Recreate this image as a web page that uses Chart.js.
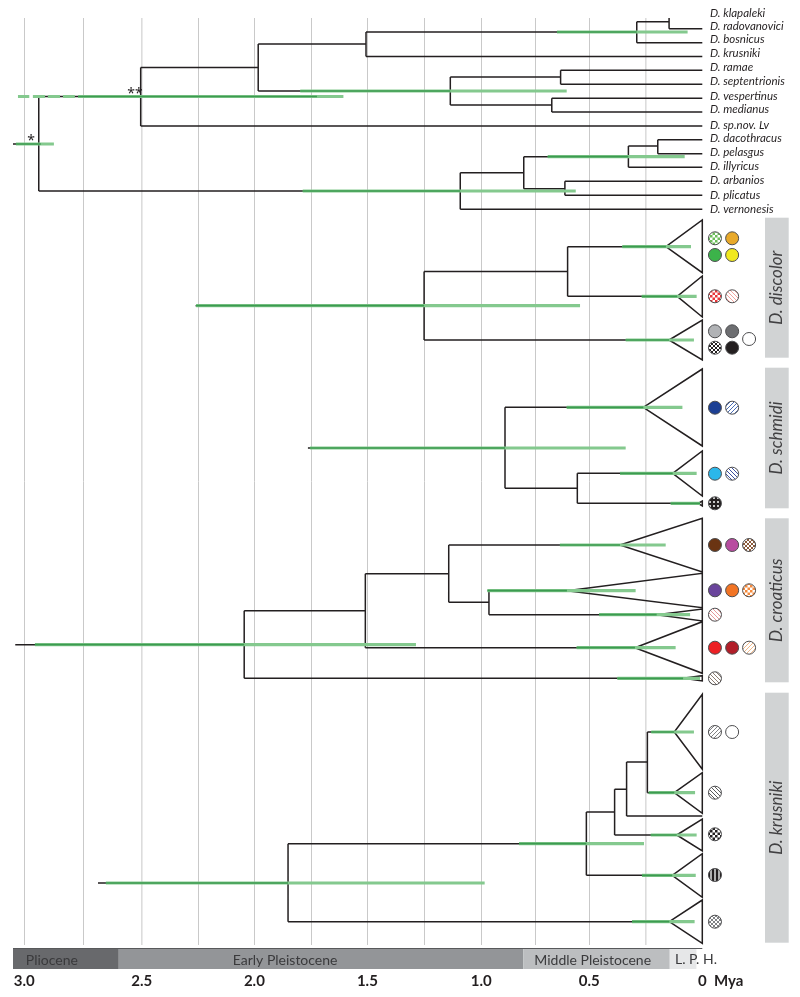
<!DOCTYPE html>
<html>
<head>
<meta charset="utf-8">
<script src="https://cdn.jsdelivr.net/npm/chart.js@4"></script>
<style>
  html, body { margin: 0; padding: 0; background: #fff; }
  canvas { display: block; }
</style>
</head>
<body>
<canvas id="tree" width="800" height="997"></canvas>
<script>
// time axis, ages in Mya
const gridAges = [3.0, 2.739, 2.48, 2.23, 1.982, 1.731, 1.482, 1.23, 0.978, 0.739, 0.5, 0.249, 0];
const tickLabels = ["3.0", "", "2.5", "", "2.0", "", "1.5", "", "1.0", "", "0.5", "", "0"];

const eraNames = ["Pliocene", "Early Pleistocene", "Middle Pleistocene", "L. P.", ""];
const eraOld = [3.05, 2.582, 0.792, 0.144, 0.025];
const eraYoung = [2.582, 0.792, 0.144, 0.025, 0];
const eraLabelAge = [2.878, 1.846, 0.485, null, null];
const eraColors = ["#68696c", "#939598", "#bcbec0", "#e6e7e8", "#ffffff"];

// horizontal branches: row, older end, younger end
const stemY = [14.7, 28.7, 42.7, 21.7, 32, 56.6, 44, 70.3, 84.3, 98.3, 112, 77, 105, 91, 67.5, 125.9, 96.5,
  139.7, 153.7, 146, 167.3, 156.7, 181.3, 195.3, 188.7, 172.7, 209.3, 191, 144,
  246.7, 296.3, 271.5, 340, 305.7,
  407.3, 473.3, 503.3, 488.3, 448,
  545, 590.7, 614.7, 602.3, 573.7, 647.7, 610.7, 678.3, 644.7,
  732, 792.7, 762, 816, 789.3, 835, 812, 875.3, 843.7, 921.7, 883];
const stemOld = [0.147, 0.147, 0.29, 0.29, 1.488, 1.488, 1.965, 0.627, 0.627, 0.666, 0.666, 1.115, 1.115, 1.965, 2.485, 2.485, 2.936,
  0.197, 0.197, 0.327, 0.327, 0.79, 0.608, 0.608, 0.79, 1.071, 1.071, 2.936, 3.05,
  0.596, 0.596, 1.231, 1.231, 2.242,
  0.873, 0.553, 0.553, 0.873, 1.745,
  1.122, 0.944, 0.944, 1.122, 1.491, 1.491, 2.027, 2.027, 3.04,
  0.243, 0.243, 0.335, 0.335, 0.388, 0.388, 0.513, 0.513, 1.833, 1.833, 2.674];
const stemYoung = [0, 0, 0, 0.147, 0.29, 0, 1.488, 0, 0, 0, 0, 0.627, 0.666, 1.115, 1.965, 0, 2.485,
  0, 0, 0.197, 0, 0.327, 0, 0, 0.608, 0.79, 0, 1.071, 2.936,
  0.161, 0.111, 0.596, 0.147, 1.231,
  0.261, 0.131, 0.019, 0.553, 0.873,
  0.364, 0.599, 0.202, 0.944, 1.122, 0.298, 1.491, 0.085, 2.027,
  0.124, 0.124, 0.243, 0, 0.335, 0.113, 0.388, 0.133, 0.513, 0.146, 1.833];

// vertical connectors
const splitAge = [0.147, 0.29, 1.488, 1.965, 0.627, 0.666, 1.115, 2.485, 0.197, 0.327, 0.608, 0.79, 1.071, 2.936,
  0.596, 1.231, 0.873, 0.553, 1.122, 0.944, 1.491, 2.027, 0.243, 0.335, 0.388, 0.513, 1.833];
const splitTop = [14.7, 21.7, 32, 44, 70.3, 98.3, 77, 67.5, 139.7, 146, 181.3, 156.7, 172.7, 96.5,
  246.7, 271.5, 407.3, 473.3, 545, 590.7, 573.7, 610.7, 732, 762, 789.3, 812, 843.7];
const splitBottom = [28.7, 42.7, 56.6, 91, 84.3, 112, 105, 125.9, 153.7, 167.3, 195.3, 188.7, 209.3, 191,
  296.3, 340, 488.3, 503.3, 602.3, 614.7, 647.7, 678.3, 792.7, 816, 835, 875.3, 921.7];

// collapsed clades, drawn as triangles closed at age 0
const cladeAge = [0.161, 0.111, 0.147, 0.261, 0.131, 0.019, 0.364, 0.599, 0.202, 0.298, 0.085, 0.124, 0.124, 0.113, 0.133, 0.146];
const cladeMid = [246.7, 296.3, 340, 407.3, 473.3, 503.3, 545, 590.7, 614.7, 647.7, 678.3, 732, 792.7, 835, 875.3, 921.7];
const cladeTop = [220, 276, 320, 369, 451, 501, 518.3, 573.3, 609, 621.7, 675.7, 694.3, 772.7, 819, 853.7, 900];
const cladeBottom = [272.7, 317, 360, 446, 496, 506, 572, 607.7, 621, 673.3, 681, 769.3, 813.3, 851, 897.3, 943.3];

// credibility bars: dark part runs old -> darkEnd, light part old -> young
const hpdY = [32, 91, 96.5, 96.5, 96.5, 96.5, 96.5, 144, 156.7, 191,
  246.7, 296.3, 340, 305.7, 407.3, 448, 473.3, 503.3,
  545, 590.7, 614.7, 647.7, 678.3, 644.7,
  732, 792.7, 835, 875.3, 921.7, 843.7, 883];
const hpdOld = [0.643, 1.779, 3.028, 2.962, 2.896, 2.829, 2.762, 3.037, 0.684, 1.768,
  0.354, 0.268, 0.339, 2.24, 0.6, 1.736, 0.364, 0.14,
  0.63, 0.951, 0.457, 0.556, 0.376, 2.953,
  0.226, 0.237, 0.228, 0.267, 0.311, 0.811, 2.639];
const hpdDarkEnd = [0.29, 1.115, null, null, null, null, 1.705, 2.927, 0.327, 1.071,
  0.161, 0.111, 0.147, 1.231, 0.261, 0.873, 0.131, 0.01,
  0.364, 0.599, 0.202, 0.298, 0.085, 2.027,
  0.124, 0.124, 0.113, 0.133, 0.146, 0.513, 1.833];
const hpdYoung = [0.065, 0.6, 2.978, 2.908, 2.842, 2.776, 1.588, 2.869, 0.078, 0.56,
  0.05, 0.025, 0.037, 0.541, 0.088, 0.339, 0.025, 0.01,
  0.162, 0.295, 0.054, 0.118, 0.01, 1.267,
  0.037, 0.032, 0.025, 0.029, 0.034, 0.258, 0.963];

// haplotype symbols, kept to the right of age 0
const symbolY = [238.3, 238.3, 255, 255, 296.3, 296.3, 331.3, 331.3, 347.7, 347.7, 339,
  407.7, 407.7, 473.7, 473.7, 503.3,
  545, 545, 545, 590.3, 590.3, 590.3, 614.7, 647.7, 647.7, 647.7, 678.3,
  732, 732, 792.7, 834.3, 875, 921.7];
const symbolCol = [1, 2, 1, 2, 1, 2, 1, 2, 1, 2, 3,
  1, 2, 1, 2, 1,
  1, 2, 3, 1, 2, 3, 1, 1, 2, 3, 1,
  1, 2, 1, 1, 1, 1];
const symbolInk = ["#6cbd5a", "#e8a92a", "#3cb34a", "#f0e81e", "#e8363a", "#f4a6a0", "#b1b3b6", "#6d6e71", "#231f20", "#231f20", "#ffffff",
  "#1c3f94", "#4a6db5", "#2bb7ea", "#3d4f9f", "#231f20",
  "#6a3412", "#b84ca0", "#8a5a3a", "#6a449c", "#f27424", "#f58a3c", "#e89a9a", "#ed2024", "#b11e29", "#f0b98a", "#8b7b70",
  "#808285", "#ffffff", "#58595b", "#231f20", "#231f20", "#808285"];
const symbolKind = ["check", "", "", "", "check", "back", "", "", "cross", "", "",
  "", "diag", "", "back", "grid",
  "", "", "cross", "", "", "check", "back", "", "", "diag", "back",
  "diag", "", "back", "check", "vert", "cross"];
const symbolColAges = [0, -0.056, -0.132, -0.207];

const taxa = ["D. klapaleki", "D. radovanovici", "D. bosnicus", "D. krusniki", "D. ramae", "D. septentrionis", "D. vespertinus",
  "D. medianus", "D. sp.nov. Lv", "D. dacothracus", "D. pelasgus", "D. illyricus", "D. arbanios", "D. plicatus", "D. vernonesis"];
const taxonY = [13, 26, 39, 53, 67, 81, 96, 109, 125, 138, 152, 166, 180, 195, 209];

const panelNames = ["D. discolor", "D. schmidi", "D. croaticus", "D. krusniki"];
const panelTop = [217.7, 367.7, 518.3, 692.7];
const panelBottom = [357.7, 508.3, 682.3, 942.7];

const supportMarks = ["**", "*"];
const supportAge = [2.51, 2.97];
const supportY = [94, 141];

// small tiles for the hatched symbols
function makePattern(kind, ink, ctx) {
  const s = kind === "check" ? 5 : 4;
  const tile = document.createElement("canvas");
  tile.width = s;
  tile.height = s;
  const t = tile.getContext("2d");
  t.fillStyle = "#ffffff";
  t.fillRect(0, 0, s, s);
  t.strokeStyle = ink;
  t.fillStyle = ink;
  t.lineWidth = 1;
  const line = (x1, y1, x2, y2) => {
    t.beginPath();
    t.moveTo(x1, y1);
    t.lineTo(x2, y2);
    t.stroke();
  };
  if (kind === "diag" || kind === "cross") {
    line(-1, s + 1, s + 1, -1);
    line(-1, 1, 1, -1);
    line(s - 1, s + 1, s + 1, s - 1);
  }
  if (kind === "back" || kind === "cross") {
    line(-1, -1, s + 1, s + 1);
    line(s - 1, -1, s + 1, 1);
    line(-1, s - 1, 1, s + 1);
  }
  if (kind === "check") {
    t.fillRect(0, 0, 2.5, 2.5);
    t.fillRect(2.5, 2.5, 2.5, 2.5);
  }
  if (kind === "grid") {
    t.fillRect(0, 0, s, s);
    t.fillStyle = "#c8c8c8";
    t.fillRect(1, 1, 2, 2);
  }
  if (kind === "vert") {
    t.fillStyle = "#b0b0b0";
    t.fillRect(0, 0, s, s);
    t.fillStyle = ink;
    t.fillRect(0, 0, 2, s);
  }
  return ctx.createPattern(tile, "repeat");
}

const treeLine = [];
stemY.forEach((y, i) => {
  treeLine.push({ x: stemOld[i], y }, { x: stemYoung[i], y }, { x: null, y: null });
});
splitAge.forEach((x, i) => {
  treeLine.push({ x, y: splitTop[i] }, { x, y: splitBottom[i] }, { x: null, y: null });
});
cladeAge.forEach((x, i) => {
  treeLine.push(
    { x, y: cladeMid[i] },
    { x: 0, y: cladeTop[i] },
    { x: 0, y: cladeBottom[i] },
    { x, y: cladeMid[i] },
    { x: null, y: null }
  );
});

const hpdLight = [];
const hpdDark = [];
hpdY.forEach((y, i) => {
  hpdLight.push({ x: hpdOld[i], y }, { x: hpdYoung[i], y }, { x: null, y: null });
  if (hpdDarkEnd[i] !== null) {
    hpdDark.push({ x: hpdOld[i], y }, { x: hpdDarkEnd[i], y }, { x: null, y: null });
  }
});

const ctx = document.getElementById("tree").getContext("2d");

const annotations = {
  id: "annotations",
  beforeDatasetsDraw(chart) {
    const c = chart.ctx;
    const xs = chart.scales.x;
    const ys = chart.scales.y;
    c.save();

    // grey side panels
    c.fillStyle = "#d1d3d4";
    panelNames.forEach((name, i) => {
      const top = ys.getPixelForValue(panelTop[i]);
      const bottom = ys.getPixelForValue(panelBottom[i]);
      c.fillRect(765, top, 23.7, bottom - top);
    });

    // geological time bar
    eraNames.forEach((name, i) => {
      const left = xs.getPixelForValue(eraOld[i]);
      const right = xs.getPixelForValue(eraYoung[i]);
      c.fillStyle = eraColors[i];
      c.fillRect(left, 949, right - left, 20);
    });
    c.fillStyle = "#58595b";
    c.fillRect(xs.getPixelForValue(3.05), 948, xs.getPixelForValue(0) - xs.getPixelForValue(3.05), 1);
    c.restore();
  },
  afterDraw(chart) {
    const c = chart.ctx;
    const xs = chart.scales.x;
    const ys = chart.scales.y;
    c.save();
    c.textBaseline = "middle";

    c.fillStyle = "#231f20";
    c.font = "italic 11.5px Lato";
    c.textAlign = "left";
    taxa.forEach((name, i) => c.fillText(name, 710, ys.getPixelForValue(taxonY[i])));

    c.font = "14px 'Noto Sans'";
    supportMarks.forEach((mark, i) => {
      c.textAlign = "center";
      c.fillText(mark, xs.getPixelForValue(supportAge[i]), ys.getPixelForValue(supportY[i]));
    });

    c.fillStyle = "#414042";
    c.font = "italic 17px Lato";
    panelNames.forEach((name, i) => {
      const mid = (ys.getPixelForValue(panelTop[i]) + ys.getPixelForValue(panelBottom[i])) / 2;
      c.save();
      c.translate(777, mid);
      c.rotate(-Math.PI / 2);
      c.fillText(name, 0, 0);
      c.restore();
    });

    c.font = "14px Lato";
    c.fillStyle = "#3a3a3c";
    eraNames.forEach((name, i) => {
      if (eraLabelAge[i] === null) return;
      c.fillText(name, xs.getPixelForValue(eraLabelAge[i]), 960);
    });
    c.textAlign = "left";
    c.fillText("L. P. H.", 675, 959);

    c.font = "bold 15px Lato";
    c.fillStyle = "#231f20";
    c.fillText("Mya", 714, 981);
    c.restore();
  },
};

new Chart(ctx, {
  type: "scatter",
  data: {
    datasets: [
      {
        label: "Haplotypes",
        data: symbolY.map((y, i) => ({ x: symbolColAges[symbolCol[i]], y })),
        backgroundColor: symbolInk.map((ink, i) => (symbolKind[i] ? makePattern(symbolKind[i], ink, ctx) : ink)),
        borderColor: "#4d4d4f",
        borderWidth: 1,
        pointRadius: 6.5,
      },
      {
        label: "HPD dark",
        data: hpdDark,
        showLine: true,
        spanGaps: false,
        borderColor: "#3c9b50",
        borderWidth: 1.7,
        pointRadius: 0,
      },
      {
        label: "HPD light",
        data: hpdLight,
        showLine: true,
        spanGaps: false,
        borderColor: "#84c98e",
        borderWidth: 3.2,
        pointRadius: 0,
      },
      {
        label: "Tree",
        data: treeLine,
        showLine: true,
        spanGaps: false,
        borderColor: "#231f20",
        borderWidth: 1.5,
        pointRadius: 0,
      },
    ],
  },
  options: {
    responsive: false,
    animation: false,
    events: [],
    layout: { autoPadding: false, padding: { left: 13, top: 18, right: 0, bottom: 0 } },
    plugins: { legend: { display: false }, tooltip: { enabled: false } },
    scales: {
      x: {
        type: "linear",
        reverse: true,
        min: -0.4323,
        max: 3.05,
        afterBuildTicks(scale) {
          scale.ticks = gridAges.map(value => ({ value }));
        },
        afterFit(scale) {
          scale.height = 52;
          // labels may overhang the plot, keep the area where it is
          scale.paddingLeft = 0;
          scale.paddingRight = 0;
        },
        border: { display: false },
        grid: {
          drawTicks: false,
          color: c => {
            if (c.tick.value === 0) return "rgba(0,0,0,0)";
            return c.tick.value === 2.48 || c.tick.value === 0.249 ? "#dcdcdc" : "#c9c9c9";
          },
          lineWidth: c => (c.tick.value === 2.48 || c.tick.value === 0.249 ? 1.6 : 1),
        },
        ticks: {
          autoSkip: false,
          maxRotation: 0,
          padding: 27,
          color: "#231f20",
          font: { family: "Lato", size: 15, weight: "bold" },
          callback: (value, index) => tickLabels[gridAges.indexOf(value)],
        },
      },
      y: {
        type: "linear",
        reverse: true,
        display: false,
        min: 18,
        max: 945,
      },
    },
  },
  plugins: [annotations],
});
</script>
</body>
</html>
